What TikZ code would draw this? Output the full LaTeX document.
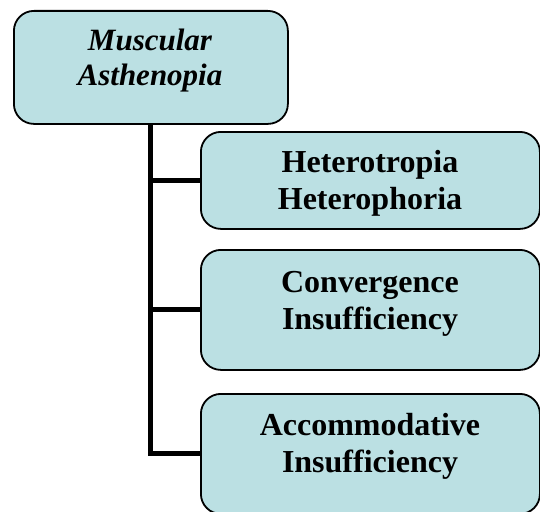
\documentclass[tikz,border=0pt]{standalone}
\usepackage{fontspec}
\setmainfont{Liberation Serif}
\definecolor{boxfill}{RGB}{187,224,227}
\begin{document}
\begin{tikzpicture}[x=1pt,y=-1pt,
  box/.style={draw=black, line width=1.8pt, fill=boxfill, rounded corners=20pt, rectangle, anchor=north west, inner sep=0pt},
  conn/.style={draw=black, line width=5pt},
  lbl/.style={align=center, inner sep=0pt, font=\fontsize{32}{37}\selectfont\bfseries},
  toplbl/.style={align=center, inner sep=0pt, font=\fontsize{31}{35}\selectfont\bfseries\itshape}]
\useasboundingbox (0,0) rectangle (540,511);
\clip (0,0) rectangle (540,511);
% boxes (shapes only)
\node[box, minimum width=274pt, minimum height=113pt] (top) at (13,10) {};
\node[box, minimum width=339pt, minimum height=97pt] (b2) at (200,131) {};
\node[box, minimum width=339pt, minimum height=120pt] (b3) at (200,249) {};
\node[box, minimum width=339pt, minimum height=120pt] (b4) at (200,393) {};
% connectors
\coordinate (c2) at (top.south |- b2.west);
\coordinate (c3) at (top.south |- b3.west);
\coordinate (c4) at (top.south |- b4.west);
\draw[conn] (top.south) -- (c4) -- (b4.west);
\draw[conn] (c2) -- (b2.west);
\draw[conn] (c3) -- (b3.west);
% labels
\node[toplbl] (t1) at (150,61) {Muscular\\Asthenopia};
\node[lbl] (t2) at (370,183) {Heterotropia\\Heterophoria};
\node[lbl] (t3) at (370,304) {Convergence\\Insufficiency};
\node[lbl] (t4) at (370,446) {Accommodative\\Insufficiency};
\end{tikzpicture}
\end{document}
